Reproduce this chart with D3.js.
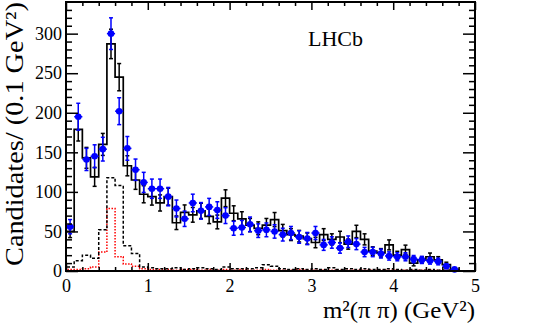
<!DOCTYPE html>
<html><head><meta charset="utf-8">
<script src="https://cdn.jsdelivr.net/npm/d3@7"></script>
<style>
body{margin:0;background:#fff}
svg{display:block}
text{font-family:"Liberation Serif","Times New Roman",serif;fill:#000}
</style>
</head><body>
<svg id="c" width="553" height="327"></svg>
<script>
// ---- data ----
const binCenters = [0.05,0.15,0.25,0.35,0.45,0.55,0.65,0.75,0.85,0.95,
  1.05,1.15,1.25,1.35,1.45,1.55,1.65,1.75,1.85,1.95,
  2.05,2.15,2.25,2.35,2.45,2.55,2.65,2.75,2.85,2.95,
  3.05,3.15,3.25,3.35,3.45,3.55,3.65,3.75,3.85,3.95,
  4.05,4.15,4.25,4.35,4.45,4.55,4.65,4.75];
const binHalfWidth = 0.05;
// blue points
const dataValues = [56,195,141,145,154,300,202,155,128,112,
  104,104,94,79,66,86,76,81,77,70,
  54,55,59,51,52,50,46,48,43,41,
  48,33,36,29,37,34,24,24,22,19,
  18,18,15,14,13,12,6,2];
const dataErrors = [9,17,14,14.5,15,20,17,15,13.5,12.7,
  12.2,12.2,11.6,10.7,9.7,11.1,10.5,10.8,10.5,10,
  8.8,8.9,9.2,8.6,8.7,8.5,8.1,8.3,7.9,7.7,
  8.3,6.9,7.2,6.5,7.3,7,5.9,5.9,5.6,5.2,
  5.1,5.1,4.6,4.5,4.3,4.2,2.9,1.7];
// black solid histogram
const histValues = [50,179,143,119,160,287,245,133,115,97,
  94,86,94,61,74,71,76,69,62,92,
  73,66,58,54,58,65,51,46,44,41,
  36,46,40,43,34,50,40,25,23,33,
  20,27,10,14,18,14,8,2];
const histErrors = [7.8,14.7,13.2,12,13.9,18.6,17.2,12.7,11.8,10.8,
  10.7,10.2,10.7,8.6,9.5,9.3,9.6,9.1,8.7,10.6,
  9.4,8.9,8.4,8.1,8.4,8.9,7.9,7.5,7.3,7,
  6.6,7.5,7,7.2,6.4,7.8,7,5.5,5.3,6.3,
  4.9,5.7,3.5,4.1,4.7,4.1,3.1,1.6];
// black dashed histogram
const dashedValues = [5,13,20,16,52,118,108,32,22,5,
  4,3,3,4,2,3,4,3,2,5,
  3,3,3,4,8,6,3,2,3,2,
  3,2,4,2,3,2,3,2,2,3,
  2,1,2,1,2,1,1,1];
// red dotted histogram
const dottedValues = [2,2,3,5,24,79,18,9,6,3,
  2,2,2,1,2,2,1,2,1,2,
  1,2,1,1,2,1,1,1,2,1,
  1,1,1,1,1,1,1,1,1,1,
  1,1,1,1,1,1,1,0];
const xTicks = [0,1,2,3,4,5];
const xMinorTicks = [0.2,0.4,0.6,0.8,1.2,1.4,1.6,1.8,2.2,2.4,2.6,2.8,3.2,3.4,3.6,3.8,4.2,4.4,4.6,4.8];
const yTicks = [0,50,100,150,200,250,300];
const yMinorTicks = [10,20,30,40,60,70,80,90,110,120,130,140,160,170,180,190,210,220,230,240,260,270,280,290,310,320,330];

// ---- layout ----
const L=66, R=475, T=2, B=271;
const svg = d3.select("#c");
const x = d3.scaleLinear().domain([0,5]).range([L,R]);
const y = d3.scaleLinear().domain([0,340]).range([B,T]);

function stepPoints(vals){
  const pts=[[binCenters[0]-binHalfWidth,0]];
  vals.forEach((v,i)=>{pts.push([binCenters[i]-binHalfWidth,v]);pts.push([binCenters[i]+binHalfWidth,v]);});
  pts.push([binCenters[binCenters.length-1]+binHalfWidth,0]);
  return pts;
}
const line = d3.line().x(d=>x(d[0])).y(d=>y(d[1]));

const plot = svg.append("g");
// red dotted
plot.append("path").attr("d",line(stepPoints(dottedValues)))
  .attr("fill","none").attr("stroke","#ff0000").attr("stroke-width",1.5).attr("stroke-dasharray","1.5,1.5");
// black dashed
plot.append("path").attr("d",line(stepPoints(dashedValues)))
  .attr("fill","none").attr("stroke","#000").attr("stroke-width",1.5).attr("stroke-dasharray","3,2");
// black histogram
plot.append("path").attr("d",line(stepPoints(histValues)))
  .attr("fill","none").attr("stroke","#000").attr("stroke-width",1.7);
const hb = plot.append("g").attr("stroke","#000").attr("stroke-width",1.5);
histValues.forEach((v,i)=>{
  const e=histErrors[i], cx=x(binCenters[i]);
  hb.append("line").attr("x1",cx).attr("x2",cx).attr("y1",y(v-e)).attr("y2",y(v+e));
  hb.append("line").attr("x1",cx-2).attr("x2",cx+2).attr("y1",y(v-e)).attr("y2",y(v-e));
  hb.append("line").attr("x1",cx-2).attr("x2",cx+2).attr("y1",y(v+e)).attr("y2",y(v+e));
});
// blue points
const bp = plot.append("g").attr("stroke","#0000ff").attr("stroke-width",1.5);
dataValues.forEach((v,i)=>{
  const e=dataErrors[i], cx=x(binCenters[i]), cy=y(v);
  bp.append("line").attr("x1",cx).attr("x2",cx).attr("y1",y(v-e)).attr("y2",y(v+e));
  bp.append("line").attr("x1",cx-2).attr("x2",cx+2).attr("y1",y(v-e)).attr("y2",y(v-e));
  bp.append("line").attr("x1",cx-2).attr("x2",cx+2).attr("y1",y(v+e)).attr("y2",y(v+e));
  bp.append("line").attr("x1",x(binCenters[i]-binHalfWidth)).attr("x2",x(binCenters[i]+binHalfWidth)).attr("y1",cy).attr("y2",cy);
  bp.append("circle").attr("cx",cx).attr("cy",cy).attr("r",3.3).attr("fill","#0000ff").attr("stroke","none");
});

// ---- axes ----
function styleAxis(g){ g.select(".domain").remove(); g.selectAll("line").attr("stroke","#000").attr("stroke-width",1.5); g.selectAll("text").style("font-family",'"Liberation Serif",serif').style("font-size","18px").attr("fill","#000"); }
svg.append("g").attr("transform",`translate(${L},0)`).call(d3.axisLeft(y).tickValues(yTicks).tickSize(-12).tickSizeOuter(0).tickPadding(4)).call(styleAxis);
svg.append("g").attr("transform",`translate(${L},0)`).call(d3.axisLeft(y).tickValues(yMinorTicks).tickSize(-6).tickSizeOuter(0).tickFormat("")).call(styleAxis);
svg.append("g").attr("transform",`translate(${R},0)`).call(d3.axisRight(y).tickValues(yTicks).tickSize(-12).tickSizeOuter(0).tickFormat("")).call(styleAxis);
svg.append("g").attr("transform",`translate(${R},0)`).call(d3.axisRight(y).tickValues(yMinorTicks).tickSize(-6).tickSizeOuter(0).tickFormat("")).call(styleAxis);
svg.append("g").attr("transform",`translate(0,${B})`).call(d3.axisBottom(x).tickValues(xTicks).tickSize(-8).tickSizeOuter(0).tickPadding(8).tickFormat(d3.format("d"))).call(styleAxis);
svg.append("g").attr("transform",`translate(0,${B})`).call(d3.axisBottom(x).tickValues(xMinorTicks).tickSize(-4).tickSizeOuter(0).tickFormat("")).call(styleAxis);
svg.append("g").attr("transform",`translate(0,${T})`).call(d3.axisTop(x).tickValues(xTicks).tickSize(-8).tickSizeOuter(0).tickFormat("")).call(styleAxis);
svg.append("g").attr("transform",`translate(0,${T})`).call(d3.axisTop(x).tickValues(xMinorTicks).tickSize(-4).tickSizeOuter(0).tickFormat("")).call(styleAxis);
svg.append("rect").attr("x",L).attr("y",T).attr("width",R-L).attr("height",B-T)
  .attr("fill","none").attr("stroke","#000").attr("stroke-width",2);

// ---- titles ----
svg.append("text").attr("transform","translate(23,2) rotate(-90)").attr("text-anchor","end")
  .style("font-size","25px").attr("textLength",264).attr("lengthAdjust","spacingAndGlyphs")
  .text("Candidates/ (0.1 GeV²)");
svg.append("text").attr("x",R).attr("y",318).attr("text-anchor","end")
  .style("font-size","24px").attr("textLength",152).attr("lengthAdjust","spacingAndGlyphs")
  .text("m²(π π) (GeV²)");
svg.append("text").attr("x",308).attr("y",46).style("font-size","22px").text("LHCb");
</script>
</body></html>
